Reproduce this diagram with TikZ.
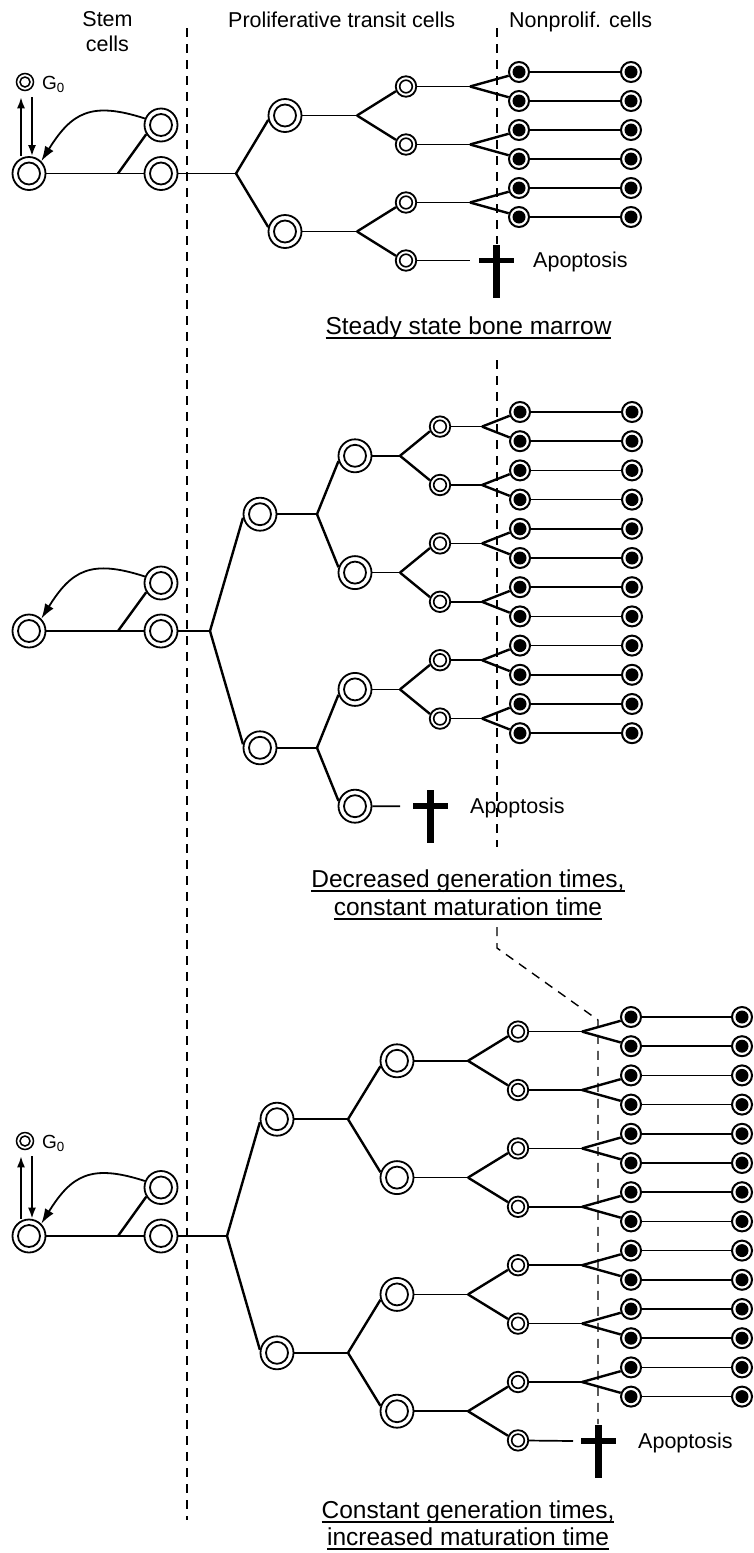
\documentclass[tikz,border=0pt]{standalone}
\usepackage{fontspec}
\setmainfont{Liberation Sans}
\usetikzlibrary{calc,arrows.meta}
\newcommand\myul[1]{{\setbox0=\hbox{#1}\rlap{\rule[-4.6pt]{\wd0}{1.4pt}}\box0}}
\tikzset{
  ring/.style={circle, draw, line width=1.8pt, inner sep=0pt},
  bigc/.style={ring, minimum size=33pt, path picture={\draw[line width=1.8pt] (path picture bounding box.center) circle[radius=11pt];}},
  smallc/.style={ring, minimum size=20.5pt, path picture={\draw[line width=1.6pt] (path picture bounding box.center) circle[radius=6.3pt];}},
  g0c/.style={ring, line width=1.5pt, minimum size=17pt, path picture={\draw[line width=1.5pt] (path picture bounding box.center) circle[radius=5pt];}},
  filledc/.style={ring, line width=2pt, minimum size=20pt, path picture={\fill (path picture bounding box.center) circle[radius=6.5pt];}},
  hline/.style={line width=1.7pt},
  diag/.style={line width=2.4pt},
  dline/.style={line width=1.4pt, dash pattern=on 9pt off 7pt},
  garr/.style={line width=1.8pt, -{Latex[length=11pt,width=8pt]}},
  carr/.style={line width=1.8pt, -{Latex[length=15pt,width=10pt]}},
  lab/.style={inner sep=0pt, font=\fontsize{21.5}{25}\selectfont},
  ttl/.style={inner sep=0pt, font=\fontsize{24.5}{28}\selectfont},
  gl/.style={inner sep=0pt, font=\fontsize{19}{21}\selectfont},
  crossmark/.pic={\fill (-3.5,-16) rectangle (3.5,37); \fill (-17.5,-2.9) rectangle (17.5,2.9);}
}
\begin{document}
\begin{tikzpicture}[x=1pt,y=-1pt]
\useasboundingbox (0,0) rectangle (754,1553);

% ---------------- headers ----------------
\node[lab, align=center, anchor=north] (hstem) at (107.5,11) {Stem\\cells};
\node[lab, anchor=base west] (hprol) at (228,27) {Proliferative transit cells};
\node[lab, anchor=base west] (hnon) at (509,27) {Nonprolif. cells};

% ---------------- dashed separators ----------------
\coordinate (D1t) at (187,28); \coordinate (D1b) at (187,1520);
\draw[dline] (D1t) -- (D1b);
\coordinate (D2t) at (497,28); \coordinate (D2a) at (497,244);
\draw[dline] (D2t) -- (D2a);
\coordinate (D2b) at (497,360); \coordinate (D2c) at (497,847);
\draw[dline] (D2b) -- (D2c);
\coordinate (D2d) at (497,927); \coordinate (D2e) at (497,948);
\coordinate (D2f) at (598,1020); \coordinate (D2g) at (598,1424);
\draw[dline] (D2d) -- (D2e) -- (D2f) -- (D2g);

% =============== TOP: steady state ===============
\node[g0c] (TG) at (25,82) {};
\node[gl, anchor=base west] (TGl) at (42,89) {G\textsubscript{0}};
\node[bigc] (TL) at (29,173.5) {};
\node[bigc] (TS1) at (161,125) {};
\node[bigc] (TS2) at (161,173.5) {};
\coordinate (Ta) at (118,173.5);
\coordinate (TB1) at (236,173.5);
\draw[hline] (TL) -- (TS2);
\draw[diag] (Ta) -- (TS1.212);
\draw[hline] (TS2) -- (TB1);
\draw[carr] (TS1.158) to[out=162,in=58,looseness=1.3] (TL.45);
\draw[garr] ([xshift=-8pt]TL.north) -- ($(TG.south)+(-4,6)$);
\draw[garr] ($(TG.south)+(7,6)$) -- ([xshift=3pt]TL.north);

\node[bigc] (TC1) at (285,115.5) {};
\node[bigc] (TC2) at (285,231.5) {};
\draw[diag] (TB1) -- (TC1.195);
\draw[diag] (TB1) -- (TC2.165);
\foreach \i in {0,...,3} { \node[smallc] (Ts\i) at (406,{86.5+58*\i}) {}; }
\foreach \k in {0,...,5} {
  \node[filledc] (Tf\k) at (519,{72+29*\k}) {};
  \node[filledc] (Tr\k) at (631,{72+29*\k}) {};
  \draw[hline] (Tf\k) -- (Tr\k);
}
\foreach \i in {1,2} {
  \pgfmathtruncatemacro\ja{2*\i-2}\pgfmathtruncatemacro\jb{2*\i-1}
  \coordinate (TB2\i) at (357,{115.5+116*(\i-1)});
  \draw[hline] (TC\i) -- (TB2\i);
  \draw[diag] (TB2\i) -- (Ts\ja.205);
  \draw[diag] (TB2\i) -- (Ts\jb.155);
}
\foreach \i in {0,1,2} {
  \pgfmathtruncatemacro\ka{2*\i}\pgfmathtruncatemacro\kb{2*\i+1}
  \coordinate (TB3\i) at (470,{86.5+58*\i});
  \draw[hline] (Ts\i) -- (TB3\i);
  \draw[diag] (TB3\i) -- (Tf\ka.200);
  \draw[diag] (TB3\i) -- (Tf\kb.160);
}
\coordinate (TX) at (470,260.5);
\draw[hline] (Ts3) -- (TX);
\pic at (496,260.5) {crossmark};
\node[lab, anchor=base west] (TAp) at (533,267.5) {Apoptosis};
\node[ttl, anchor=base] (t1) at (468.5,334) {\myul{Steady state bone marrow}};

% =============== MIDDLE ===============
\node[bigc] (ML) at (29,631) {};
\node[bigc] (MS1) at (161,583) {};
\node[bigc] (MS2) at (161,631) {};
\coordinate (Ma) at (118,631);
\coordinate (MB1) at (210,631);
\draw[hline] (ML) -- (MS2);
\draw[diag] (Ma) -- (MS1.212);
\draw[hline] (MS2) -- (MB1);
\draw[carr] (MS1.158) to[out=162,in=58,looseness=1.3] (ML.45);

\node[bigc] (MC1) at (260,514.2) {};
\node[bigc] (MC2) at (260,747.8) {};
\draw[diag] (MB1) -- (MC1.192);
\draw[diag] (MB1) -- (MC2.168);
\foreach \i in {0,...,3} { \node[bigc] (Mm\i) at (355,{455.8+116.8*\i}) {}; }
\foreach \j in {0,...,5} { \node[smallc] (Ms\j) at (440,{426.6+58.4*\j}) {}; }
\foreach \k in {0,...,11} {
  \node[filledc] (Mf\k) at (520,{412+29.2*\k}) {};
  \node[filledc] (Mr\k) at (632,{412+29.2*\k}) {};
  \draw[hline] (Mf\k) -- (Mr\k);
}
\foreach \i in {1,2} {
  \pgfmathtruncatemacro\ja{2*\i-2}\pgfmathtruncatemacro\jb{2*\i-1}
  \coordinate (MB2\i) at (317,{514.2+233.6*(\i-1)});
  \draw[hline] (MC\i) -- (MB2\i);
  \draw[diag] (MB2\i) -- (Mm\ja.198);
  \draw[diag] (MB2\i) -- (Mm\jb.162);
}
\foreach \i in {0,1,2} {
  \pgfmathtruncatemacro\ja{2*\i}\pgfmathtruncatemacro\jb{2*\i+1}
  \coordinate (MB3\i) at (400,{455.8+116.8*\i});
  \draw[hline] (Mm\i) -- (MB3\i);
  \draw[diag] (MB3\i) -- (Ms\ja.205);
  \draw[diag] (MB3\i) -- (Ms\jb.155);
}
\foreach \j in {0,...,5} {
  \pgfmathtruncatemacro\ka{2*\j}\pgfmathtruncatemacro\kb{2*\j+1}
  \coordinate (MB4\j) at (482,{426.6+58.4*\j});
  \draw[hline] (Ms\j) -- (MB4\j);
  \draw[diag] (MB4\j) -- (Mf\ka.200);
  \draw[diag] (MB4\j) -- (Mf\kb.160);
}
\coordinate (MX) at (400,806.2);
\draw[hline] (Mm3) -- (MX);
\pic at (430,806.2) {crossmark};
\node[lab, anchor=base west] (MAp) at (470,813.2) {Apoptosis};
\node[ttl, anchor=base] (t2a) at (468,887) {\myul{Decreased generation times,}};
\node[ttl, anchor=base] (t2b) at (468,915) {\myul{constant maturation time}};

% =============== BOTTOM ===============
\node[g0c] (BG) at (25,1141) {};
\node[gl, anchor=base west] (BGl) at (42,1148) {G\textsubscript{0}};
\node[bigc] (BL) at (29,1236) {};
\node[bigc] (BS1) at (161,1187.5) {};
\node[bigc] (BS2) at (161,1236) {};
\coordinate (Ba) at (118,1236);
\coordinate (BB1) at (227,1236);
\draw[hline] (BL) -- (BS2);
\draw[diag] (Ba) -- (BS1.212);
\draw[hline] (BS2) -- (BB1);
\draw[carr] (BS1.158) to[out=162,in=58,looseness=1.3] (BL.45);
\draw[garr] ([xshift=-8pt]BL.north) -- ($(BG.south)+(-4,6)$);
\draw[garr] ($(BG.south)+(7,6)$) -- ([xshift=3pt]BL.north);

\node[bigc] (BC1) at (277,1119.2) {};
\node[bigc] (BC2) at (277,1352.8) {};
\draw[diag] (BB1) -- (BC1.190);
\draw[diag] (BB1) -- (BC2.170);
\foreach \i in {0,...,3} { \node[bigc] (Bm\i) at (397,{1060.8+116.8*\i}) {}; }
\foreach \j in {0,...,7} { \node[smallc] (Bs\j) at (518,{1031.6+58.4*\j}) {}; }
\foreach \k in {0,...,13} {
  \node[filledc] (Bf\k) at (631,{1017+29.2*\k}) {};
  \node[filledc] (Br\k) at (742,{1017+29.2*\k}) {};
  \draw[hline] (Bf\k) -- (Br\k);
}
\foreach \i in {1,2} {
  \pgfmathtruncatemacro\ja{2*\i-2}\pgfmathtruncatemacro\jb{2*\i-1}
  \coordinate (BB2\i) at (348,{1119.2+233.6*(\i-1)});
  \draw[hline] (BC\i) -- (BB2\i);
  \draw[diag] (BB2\i) -- (Bm\ja.198);
  \draw[diag] (BB2\i) -- (Bm\jb.162);
}
\foreach \i in {0,...,3} {
  \pgfmathtruncatemacro\ja{2*\i}\pgfmathtruncatemacro\jb{2*\i+1}
  \coordinate (BB3\i) at (468,{1060.8+116.8*\i});
  \draw[hline] (Bm\i) -- (BB3\i);
  \draw[diag] (BB3\i) -- (Bs\ja.205);
  \draw[diag] (BB3\i) -- (Bs\jb.155);
}
\foreach \j in {0,...,6} {
  \pgfmathtruncatemacro\ka{2*\j}\pgfmathtruncatemacro\kb{2*\j+1}
  \coordinate (BB4\j) at (582,{1031.6+58.4*\j});
  \draw[hline] (Bs\j) -- (BB4\j);
  \draw[diag] (BB4\j) -- (Bf\ka.200);
  \draw[diag] (BB4\j) -- (Bf\kb.160);
}
\coordinate (BX) at (573,1441);
\draw[hline] (Bs7) -- (BX);
\pic at (598,1441) {crossmark};
\node[lab, anchor=base west] (BAp) at (638,1448) {Apoptosis};
\node[ttl, anchor=base] (t3a) at (468,1518) {\myul{Constant generation times,}};
\node[ttl, anchor=base] (t3b) at (468,1545) {\myul{increased maturation time}};
\end{tikzpicture}
\end{document}
